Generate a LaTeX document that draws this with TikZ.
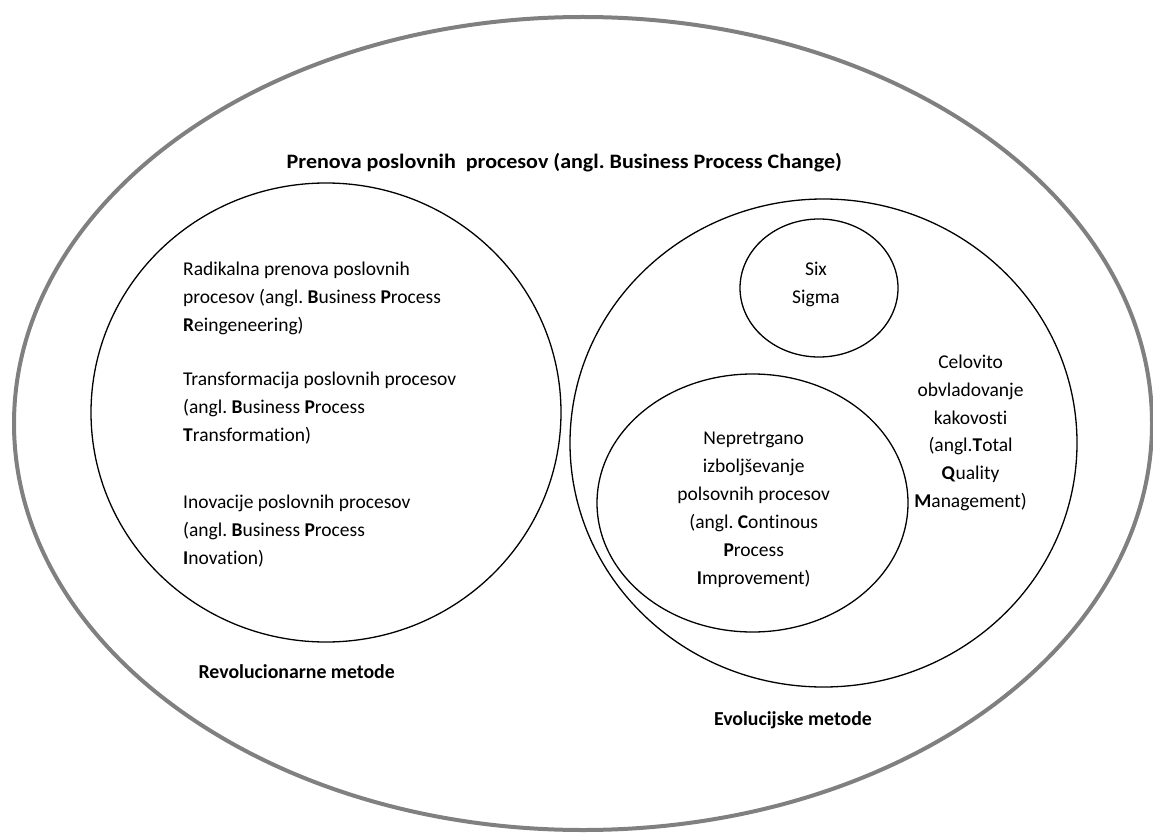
\documentclass[tikz,border=0pt]{standalone}
\usepackage{fontspec}
\setmainfont[Ligatures=NoCommon]{Carlito}
\frenchspacing
\tikzset{
  outerline/.style={draw=black!50, line width=4pt},
  innerline/.style={draw=black, line width=1.3pt},
  bodytext/.style={inner sep=0pt, font=\fontsize{19.5}{27.9}\selectfont},
  headtext/.style={inner sep=0pt, font=\fontsize{19.8}{27.9}\selectfont\bfseries},
  titletext/.style={inner sep=0pt, font=\fontsize{20.5}{27.9}\selectfont\bfseries},
}
\begin{document}
\begin{tikzpicture}[x=1pt,y=-1pt]
\useasboundingbox (0,0) rectangle (1153,834);
% shapes
\draw[outerline] (583,423.5) ellipse [x radius=569pt, y radius=406.5pt];
\draw[innerline] (326,412.5) ellipse [x radius=235pt, y radius=229.5pt];
\draw[innerline] (823.5,443) ellipse [x radius=253.5pt, y radius=244pt];
\draw[innerline] (819,288) ellipse [x radius=79pt, y radius=69pt];
\draw[innerline] (752.5,503) ellipse [x radius=155.5pt, y radius=129pt];
% texts
\node[titletext, anchor=base] (title) at (564.3,169) {\scalebox{1.075}[1]{Prenova poslovnih\ \ procesov (angl. Business Process Change)}};
\node[bodytext, anchor=north west, align=left] (bpr) at (183,255.5)
  {\strut Radikalna prenova poslovnih\\procesov (angl. \textbf{B}usiness \textbf{P}rocess\\\textbf{R}eingeneering)};
\node[bodytext, anchor=north west, align=left] (bpt) at (183,365.5)
  {\strut Transformacija poslovnih procesov\\(angl. \textbf{B}usiness \textbf{P}rocess\\\textbf{T}ransformation)};
\node[bodytext, anchor=north west, align=left] (bpi) at (183,489)
  {\strut Inovacije poslovnih procesov\\(angl. \textbf{B}usiness \textbf{P}rocess\\\textbf{I}novation)};
\node[headtext, anchor=base] (rev) at (296.7,678) {Revolucionarne metode};
\node[headtext, anchor=base] (evo) at (793,725) {Evolucijske metode};
\node[bodytext, anchor=north, align=center] (six) at (816,255.5) {\strut Six\\Sigma};
\node[bodytext, anchor=north, align=center] (tqm) at (970.6,348.5)
  {\strut Celovito\\obvladovanje\\kakovosti\\(angl.\textbf{T}otal\\\textbf{Q}uality\\\textbf{M}anagement)};
\node[bodytext, anchor=north, align=center] (cpi) at (753.7,425)
  {\strut Nepretrgano\\izboljševanje\\polsovnih procesov\\(angl. \textbf{C}ontinous\\\textbf{P}rocess\\\textbf{I}mprovement)};
\end{tikzpicture}
\end{document}
